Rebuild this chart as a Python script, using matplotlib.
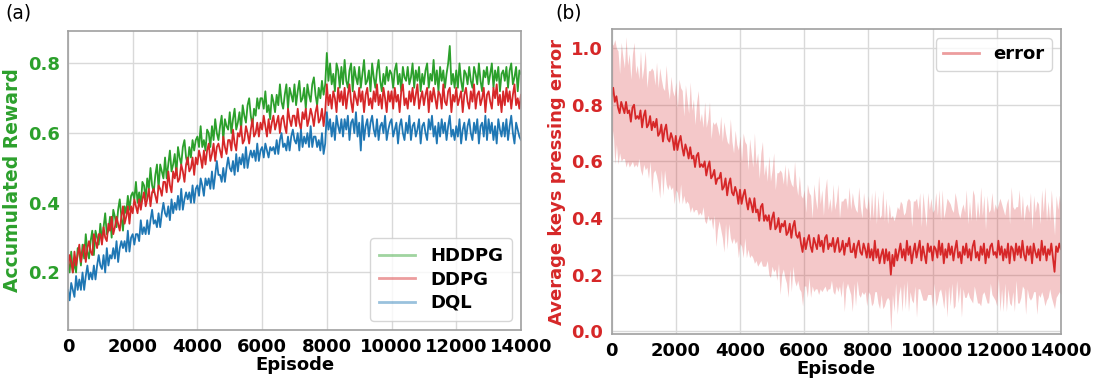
import numpy as np
import matplotlib
matplotlib.use("Agg")
import matplotlib.pyplot as plt

# episodes sampled every 50 steps (0 .. 14000)
episodes = np.arange(0, 14001, 50)

hddpg = [0.23, 0.20, 0.26, 0.20, 0.23, 0.20, 0.27, 0.26, 0.22, 0.28,
         0.24, 0.31, 0.26, 0.24, 0.29, 0.32, 0.25, 0.32, 0.30, 0.28,
         0.34, 0.29, 0.33, 0.37, 0.31, 0.32, 0.36, 0.30, 0.38, 0.36,
         0.33, 0.38, 0.41, 0.36, 0.32, 0.39, 0.37, 0.42, 0.38, 0.42,
         0.43, 0.41, 0.46, 0.40, 0.43, 0.39, 0.46, 0.45, 0.41, 0.47,
         0.44, 0.50, 0.45, 0.43, 0.48, 0.51, 0.44, 0.51, 0.49, 0.47,
         0.53, 0.47, 0.51, 0.55, 0.49, 0.51, 0.54, 0.48, 0.56, 0.53,
         0.51, 0.56, 0.58, 0.53, 0.51, 0.56, 0.53, 0.58, 0.55, 0.58,
         0.59, 0.56, 0.62, 0.56, 0.58, 0.55, 0.61, 0.60, 0.56, 0.62,
         0.58, 0.64, 0.60, 0.58, 0.62, 0.65, 0.58, 0.64, 0.62, 0.61,
         0.66, 0.60, 0.64, 0.67, 0.61, 0.63, 0.66, 0.61, 0.68, 0.65,
         0.63, 0.68, 0.70, 0.65, 0.62, 0.67, 0.65, 0.70, 0.67, 0.70,
         0.70, 0.67, 0.72, 0.66, 0.68, 0.64, 0.71, 0.69, 0.66, 0.71,
         0.68, 0.74, 0.69, 0.67, 0.71, 0.74, 0.67, 0.73, 0.71, 0.69,
         0.74, 0.68, 0.72, 0.75, 0.69, 0.70, 0.73, 0.67, 0.74, 0.71,
         0.69, 0.74, 0.76, 0.71, 0.68, 0.73, 0.70, 0.75, 0.71, 0.74,
         0.83, 0.75, 0.80, 0.74, 0.77, 0.72, 0.80, 0.78, 0.73, 0.79,
         0.74, 0.81, 0.75, 0.73, 0.78, 0.80, 0.72, 0.79, 0.76, 0.74,
         0.79, 0.73, 0.77, 0.81, 0.74, 0.75, 0.78, 0.72, 0.80, 0.76,
         0.73, 0.78, 0.81, 0.75, 0.72, 0.77, 0.74, 0.79, 0.75, 0.78,
         0.77, 0.73, 0.78, 0.80, 0.74, 0.77, 0.72, 0.79, 0.76, 0.75,
         0.79, 0.74, 0.76, 0.80, 0.73, 0.78, 0.75, 0.79, 0.72, 0.77,
         0.74, 0.78, 0.80, 0.73, 0.77, 0.75, 0.81, 0.74, 0.78, 0.72,
         0.79, 0.75, 0.78, 0.73, 0.77, 0.80, 0.85, 0.74, 0.77, 0.73,
         0.78, 0.73, 0.80, 0.75, 0.72, 0.78, 0.77, 0.74, 0.79, 0.75,
         0.73, 0.79, 0.77, 0.74, 0.80, 0.75, 0.72, 0.78, 0.76, 0.79,
         0.74, 0.77, 0.80, 0.73, 0.78, 0.75, 0.79, 0.72, 0.77, 0.78,
         0.75, 0.79, 0.73, 0.78, 0.80, 0.74, 0.76, 0.79, 0.72, 0.78,
         0.77]

ddpg = [0.21, 0.25, 0.23, 0.20, 0.26, 0.22, 0.25, 0.28, 0.23, 0.26,
        0.28, 0.23, 0.27, 0.29, 0.26, 0.25, 0.31, 0.29, 0.27, 0.31,
        0.31, 0.28, 0.33, 0.30, 0.29, 0.34, 0.32, 0.36, 0.31, 0.33,
        0.36, 0.34, 0.32, 0.36, 0.39, 0.34, 0.36, 0.39, 0.34, 0.39,
        0.37, 0.41, 0.39, 0.37, 0.41, 0.38, 0.41, 0.43, 0.39, 0.41,
        0.44, 0.39, 0.43, 0.44, 0.42, 0.40, 0.45, 0.44, 0.42, 0.46,
        0.46, 0.43, 0.49, 0.45, 0.43, 0.49, 0.47, 0.50, 0.46, 0.47,
        0.51, 0.49, 0.46, 0.51, 0.53, 0.49, 0.50, 0.53, 0.48, 0.53,
        0.51, 0.55, 0.53, 0.50, 0.55, 0.51, 0.55, 0.57, 0.52, 0.54,
        0.57, 0.52, 0.56, 0.57, 0.55, 0.53, 0.59, 0.56, 0.54, 0.58,
        0.58, 0.55, 0.61, 0.57, 0.55, 0.60, 0.59, 0.62, 0.57, 0.58,
        0.62, 0.60, 0.57, 0.61, 0.64, 0.59, 0.60, 0.63, 0.59, 0.63,
        0.61, 0.65, 0.62, 0.59, 0.64, 0.60, 0.63, 0.65, 0.61, 0.63,
        0.65, 0.60, 0.64, 0.65, 0.62, 0.60, 0.67, 0.64, 0.62, 0.65,
        0.65, 0.62, 0.67, 0.63, 0.61, 0.66, 0.64, 0.67, 0.62, 0.64,
        0.67, 0.65, 0.62, 0.66, 0.68, 0.63, 0.64, 0.67, 0.62, 0.66,
        0.74, 0.68, 0.71, 0.67, 0.72, 0.70, 0.66, 0.73, 0.69, 0.72,
        0.68, 0.73, 0.67, 0.71, 0.74, 0.69, 0.66, 0.72, 0.70, 0.68,
        0.73, 0.69, 0.72, 0.66, 0.71, 0.73, 0.68, 0.70, 0.67, 0.72,
        0.69, 0.74, 0.68, 0.71, 0.67, 0.73, 0.70, 0.66, 0.72, 0.69,
        0.72, 0.67, 0.73, 0.69, 0.71, 0.66, 0.72, 0.74, 0.68, 0.70,
        0.67, 0.72, 0.69, 0.73, 0.68, 0.71, 0.74, 0.67, 0.70, 0.72,
        0.68, 0.71, 0.73, 0.66, 0.72, 0.69, 0.73, 0.70, 0.67, 0.72,
        0.71, 0.67, 0.74, 0.69, 0.68, 0.72, 0.73, 0.66, 0.71, 0.69,
        0.73, 0.68, 0.70, 0.72, 0.66, 0.71, 0.73, 0.69, 0.67, 0.72,
        0.69, 0.74, 0.67, 0.71, 0.72, 0.68, 0.70, 0.73, 0.66, 0.71,
        0.72, 0.69, 0.67, 0.73, 0.70, 0.74, 0.68, 0.71, 0.66, 0.72,
        0.68, 0.73, 0.69, 0.72, 0.67, 0.71, 0.74, 0.68, 0.70, 0.67,
        0.71]

dql = [0.15, 0.12, 0.17, 0.15, 0.13, 0.19, 0.15, 0.18, 0.15, 0.20,
       0.15, 0.19, 0.22, 0.18, 0.20, 0.18, 0.22, 0.18, 0.22, 0.25,
       0.22, 0.21, 0.25, 0.20, 0.27, 0.22, 0.25, 0.24, 0.27, 0.24,
       0.29, 0.23, 0.27, 0.29, 0.27, 0.29, 0.26, 0.32, 0.26, 0.30,
       0.31, 0.28, 0.31, 0.31, 0.29, 0.35, 0.31, 0.33, 0.31, 0.35,
       0.31, 0.35, 0.38, 0.34, 0.35, 0.33, 0.37, 0.33, 0.37, 0.40,
       0.37, 0.36, 0.39, 0.35, 0.41, 0.37, 0.40, 0.38, 0.42, 0.38,
       0.44, 0.38, 0.41, 0.43, 0.41, 0.43, 0.40, 0.45, 0.40, 0.44,
       0.45, 0.42, 0.47, 0.45, 0.42, 0.47, 0.45, 0.47, 0.44, 0.49,
       0.44, 0.48, 0.52, 0.48, 0.48, 0.46, 0.50, 0.46, 0.50, 0.53,
       0.50, 0.49, 0.52, 0.48, 0.54, 0.49, 0.53, 0.51, 0.54, 0.50,
       0.56, 0.50, 0.53, 0.55, 0.53, 0.55, 0.52, 0.57, 0.52, 0.55,
       0.56, 0.53, 0.57, 0.55, 0.53, 0.56, 0.55, 0.56, 0.54, 0.58,
       0.54, 0.58, 0.60, 0.56, 0.57, 0.55, 0.59, 0.55, 0.59, 0.61,
       0.58, 0.57, 0.60, 0.55, 0.61, 0.56, 0.59, 0.57, 0.60, 0.56,
       0.62, 0.56, 0.59, 0.59, 0.56, 0.58, 0.55, 0.60, 0.54, 0.57,
       0.66, 0.61, 0.64, 0.59, 0.63, 0.58, 0.65, 0.62, 0.60, 0.64,
       0.59, 0.64, 0.61, 0.65, 0.58, 0.63, 0.64, 0.60, 0.66, 0.59,
       0.63, 0.55, 0.65, 0.58, 0.62, 0.64, 0.59, 0.63, 0.65, 0.61,
       0.59, 0.64, 0.58, 0.62, 0.63, 0.60, 0.65, 0.58, 0.61, 0.63,
       0.64, 0.59, 0.61, 0.63, 0.57, 0.62, 0.64, 0.60, 0.58, 0.63,
       0.60, 0.65, 0.58, 0.62, 0.63, 0.59, 0.61, 0.64, 0.57, 0.62,
       0.63, 0.60, 0.58, 0.64, 0.61, 0.65, 0.59, 0.62, 0.57, 0.63,
       0.59, 0.64, 0.60, 0.63, 0.58, 0.62, 0.65, 0.59, 0.61, 0.58,
       0.62, 0.59, 0.64, 0.57, 0.61, 0.63, 0.58, 0.62, 0.64, 0.60,
       0.58, 0.63, 0.60, 0.64, 0.57, 0.62, 0.63, 0.59, 0.65, 0.58,
       0.64, 0.60, 0.63, 0.58, 0.62, 0.57, 0.64, 0.61, 0.59, 0.63,
       0.59, 0.64, 0.58, 0.62, 0.65, 0.60, 0.57, 0.63, 0.61, 0.59,
       0.58]

error_mean = [0.83, 0.86, 0.81, 0.83, 0.79, 0.77, 0.81, 0.79, 0.77, 0.81,
              0.77, 0.78, 0.74, 0.79, 0.80, 0.75, 0.76, 0.75, 0.78, 0.72,
              0.76, 0.78, 0.72, 0.73, 0.76, 0.71, 0.74, 0.72, 0.75, 0.69,
              0.70, 0.73, 0.67, 0.71, 0.73, 0.68, 0.67, 0.70, 0.68, 0.64,
              0.69, 0.64, 0.67, 0.69, 0.65, 0.62, 0.66, 0.64, 0.61, 0.65,
              0.61, 0.62, 0.58, 0.62, 0.63, 0.58, 0.59, 0.58, 0.60, 0.55,
              0.58, 0.60, 0.54, 0.55, 0.57, 0.52, 0.54, 0.54, 0.56, 0.50,
              0.51, 0.54, 0.48, 0.52, 0.54, 0.49, 0.48, 0.51, 0.49, 0.45,
              0.50, 0.45, 0.48, 0.50, 0.46, 0.43, 0.47, 0.45, 0.42, 0.47,
              0.42, 0.43, 0.39, 0.44, 0.45, 0.39, 0.41, 0.39, 0.41, 0.36,
              0.40, 0.42, 0.36, 0.37, 0.40, 0.35, 0.38, 0.37, 0.39, 0.34,
              0.35, 0.38, 0.33, 0.37, 0.39, 0.34, 0.33, 0.35, 0.31, 0.28,
              0.33, 0.29, 0.32, 0.34, 0.30, 0.28, 0.33, 0.31, 0.29, 0.34,
              0.30, 0.32, 0.28, 0.33, 0.34, 0.29, 0.31, 0.30, 0.33, 0.28,
              0.31, 0.33, 0.28, 0.29, 0.32, 0.27, 0.31, 0.30, 0.33, 0.28,
              0.28, 0.31, 0.26, 0.30, 0.32, 0.28, 0.27, 0.31, 0.29, 0.26,
              0.31, 0.26, 0.29, 0.25, 0.32, 0.26, 0.29, 0.24, 0.27, 0.29,
              0.24, 0.29, 0.25, 0.28, 0.20, 0.27, 0.23, 0.29, 0.25, 0.28,
              0.31, 0.26, 0.29, 0.25, 0.32, 0.27, 0.30, 0.24, 0.28, 0.31,
              0.26, 0.29, 0.32, 0.25, 0.30, 0.27, 0.24, 0.31, 0.28, 0.30,
              0.25, 0.30, 0.29, 0.26, 0.32, 0.27, 0.31, 0.24, 0.29, 0.26,
              0.31, 0.27, 0.30, 0.25, 0.29, 0.32, 0.26, 0.28, 0.24, 0.30,
              0.27, 0.31, 0.26, 0.29, 0.25, 0.30, 0.32, 0.26, 0.28, 0.25,
              0.30, 0.27, 0.31, 0.24, 0.29, 0.26, 0.30, 0.31, 0.27, 0.28,
              0.26, 0.32, 0.27, 0.30, 0.25, 0.29, 0.26, 0.31, 0.24, 0.30,
              0.29, 0.25, 0.31, 0.27, 0.30, 0.26, 0.32, 0.27, 0.25, 0.30,
              0.27, 0.30, 0.24, 0.31, 0.28, 0.26, 0.29, 0.25, 0.32, 0.27,
              0.30, 0.25, 0.29, 0.27, 0.31, 0.26, 0.21, 0.30, 0.28, 0.31,
              0.29]

# half width of the shaded band around the error
error_spread = [0.19, 0.15, 0.22, 0.17, 0.20, 0.14, 0.21, 0.18, 0.16, 0.23,
                0.17, 0.20, 0.15, 0.19, 0.22, 0.16, 0.18, 0.14, 0.21, 0.17,
                0.17, 0.21, 0.14, 0.19, 0.16, 0.22, 0.18, 0.15, 0.20, 0.17,
                0.23, 0.16, 0.19, 0.14, 0.21, 0.18, 0.15, 0.20, 0.17, 0.19,
                0.19, 0.15, 0.22, 0.17, 0.20, 0.14, 0.21, 0.18, 0.16, 0.23,
                0.17, 0.20, 0.15, 0.19, 0.22, 0.16, 0.18, 0.14, 0.21, 0.17,
                0.17, 0.21, 0.14, 0.19, 0.16, 0.22, 0.18, 0.15, 0.20, 0.17,
                0.23, 0.16, 0.19, 0.14, 0.21, 0.18, 0.15, 0.20, 0.17, 0.19,
                0.19, 0.15, 0.22, 0.17, 0.20, 0.14, 0.21, 0.18, 0.16, 0.23,
                0.17, 0.20, 0.15, 0.19, 0.22, 0.16, 0.18, 0.14, 0.21, 0.17,
                0.17, 0.21, 0.14, 0.19, 0.16, 0.22, 0.18, 0.15, 0.20, 0.17,
                0.23, 0.16, 0.19, 0.14, 0.21, 0.18, 0.15, 0.20, 0.17, 0.19,
                0.17, 0.13, 0.20, 0.15, 0.18, 0.12, 0.19, 0.16, 0.14, 0.21,
                0.15, 0.18, 0.13, 0.17, 0.20, 0.14, 0.16, 0.12, 0.19, 0.15,
                0.15, 0.19, 0.12, 0.17, 0.14, 0.20, 0.16, 0.13, 0.18, 0.15,
                0.21, 0.14, 0.17, 0.12, 0.19, 0.16, 0.13, 0.18, 0.15, 0.17,
                0.17, 0.13, 0.20, 0.15, 0.18, 0.12, 0.19, 0.16, 0.14, 0.21,
                0.15, 0.18, 0.13, 0.17, 0.20, 0.14, 0.16, 0.12, 0.19, 0.15,
                0.15, 0.19, 0.12, 0.17, 0.14, 0.20, 0.16, 0.13, 0.18, 0.15,
                0.21, 0.14, 0.17, 0.12, 0.19, 0.16, 0.13, 0.18, 0.15, 0.17,
                0.17, 0.13, 0.20, 0.15, 0.18, 0.12, 0.19, 0.16, 0.14, 0.21,
                0.15, 0.18, 0.13, 0.17, 0.20, 0.14, 0.16, 0.12, 0.19, 0.15,
                0.15, 0.19, 0.12, 0.17, 0.14, 0.20, 0.16, 0.13, 0.18, 0.15,
                0.21, 0.14, 0.17, 0.12, 0.19, 0.16, 0.13, 0.18, 0.15, 0.17,
                0.17, 0.13, 0.20, 0.15, 0.18, 0.12, 0.19, 0.16, 0.14, 0.21,
                0.15, 0.18, 0.13, 0.17, 0.20, 0.14, 0.16, 0.12, 0.19, 0.15,
                0.15, 0.19, 0.12, 0.17, 0.14, 0.20, 0.16, 0.13, 0.18, 0.15,
                0.21, 0.14, 0.17, 0.12, 0.19, 0.16, 0.13, 0.18, 0.15, 0.17,
                0.16]

GREEN = "#2ca02c"
RED = "#d62728"
BLUE = "#1f77b4"

plt.rcParams['font.family'] = 'DejaVu Sans'
plt.rcParams['font.size'] = 13

fig = plt.figure(figsize=(11, 3.78), dpi=100)
ax1 = fig.add_axes([0.0618, 0.127, 0.4118, 0.791])
ax2 = fig.add_axes([0.556, 0.116, 0.4085, 0.807])


def style_axes(ax, ycolor):
    ax.grid(True, color="#d9d9d9", linewidth=1)
    ax.set_axisbelow(True)
    for s in ax.spines.values():
        s.set_color("#a0a0a0")
        s.set_linewidth(1.2)
    ax.tick_params(length=0, pad=6, labelsize=13)
    for lab in ax.get_xticklabels():
        lab.set_fontweight("bold")
    for lab in ax.get_yticklabels():
        lab.set_fontweight("bold")
        lab.set_color(ycolor)
    ax.set_xlabel("Episode", fontweight="bold", fontsize=13, labelpad=0)


# (a) rewards
ax1.plot(episodes, hddpg, color=GREEN, lw=1.3, label="HDDPG")
ax1.plot(episodes, ddpg, color=RED, lw=1.3, label="DDPG")
ax1.plot(episodes, dql, color=BLUE, lw=1.3, label="DQL")
ax1.set_xlim(0, 14000)
ax1.set_ylim(0.035, 0.893)
ax1.set_xticks(np.arange(0, 14001, 2000))
ax1.set_yticks([0.2, 0.4, 0.6, 0.8])
style_axes(ax1, GREEN)
ax1.set_ylabel("Accumulated Reward", color=GREEN, fontweight="bold", fontsize=13.5)
leg1 = ax1.legend(loc="lower right", prop={"weight": "bold", "size": 13},
                  handlelength=2.0, borderpad=0.5, labelspacing=0.3)
for h in leg1.get_lines():
    h.set_alpha(0.45)
    h.set_linewidth(2)

# (b) keys pressing error
lower = np.array(error_mean) - np.array(error_spread)
upper = np.array(error_mean) + np.array(error_spread)
ax2.fill_between(episodes, lower, upper, color=RED, alpha=0.25, lw=0)
ax2.plot(episodes, error_mean, color=RED, lw=1.3, label="error")
ax2.set_xlim(0, 14000)
ax2.set_ylim(-0.01, 1.067)
ax2.set_xticks(np.arange(0, 14001, 2000))
ax2.set_yticks([0.0, 0.2, 0.4, 0.6, 0.8, 1.0])
style_axes(ax2, RED)
ax2.set_ylabel("Average keys pressing error", color=RED, fontweight="bold", fontsize=13)
leg2 = ax2.legend(loc="upper right", prop={"weight": "bold", "size": 13},
                  handlelength=2.0)
for h in leg2.get_lines():
    h.set_alpha(0.45)
    h.set_linewidth(2)

fig.text(0.005, 0.952, "(a)", fontsize=13.5)
fig.text(0.505, 0.952, "(b)", fontsize=13.5)

fig.savefig("out.png", dpi=100)
